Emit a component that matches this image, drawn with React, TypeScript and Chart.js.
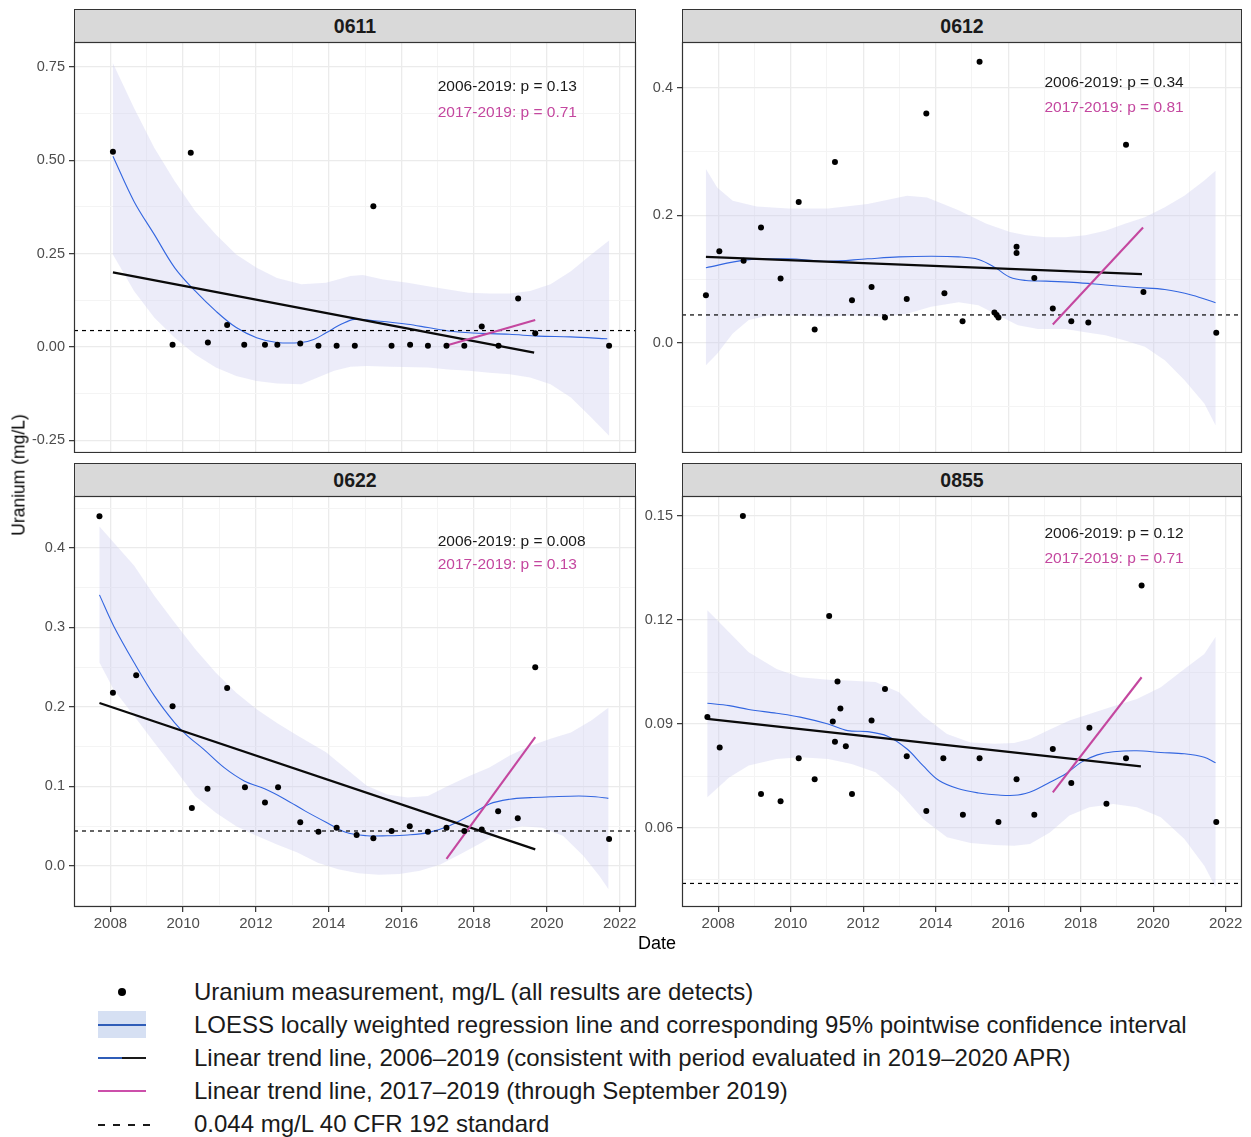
import React, { useEffect, useRef } from 'react';
import { Chart, registerables } from 'chart.js';

Chart.register(...registerables);

// ---------- shared axis data ----------
const X_MIN = 2007.0;
const X_MAX = 2022.45;
const X_MAJOR = [2008, 2010, 2012, 2014, 2016, 2018, 2020, 2022];
const X_MINOR = [2009, 2011, 2013, 2015, 2017, 2019, 2021];
const STANDARD = 0.044;
const ANNOT_X = 2017;
const PANEL_NAMES = ['0611', '0612', '0622', '0855'];
const P_ALL = ['0.13', '0.34', '0.008', '0.12'];
const P_RECENT = ['0.71', '0.81', '0.13', '0.71'];

// ---------- 0611 ----------
const pts0611X = [2008.07, 2009.71, 2010.21, 2010.68, 2011.21, 2011.68, 2012.25, 2012.59, 2013.22, 2013.72, 2014.22, 2014.72, 2015.23, 2015.73, 2016.24, 2016.73, 2017.24, 2017.73, 2018.21, 2018.67, 2019.21, 2019.68, 2021.71];
const pts0611Y = [0.523, 0.006, 0.520, 0.012, 0.059, 0.006, 0.006, 0.006, 0.009, 0.003, 0.003, 0.003, 0.377, 0.003, 0.006, 0.003, 0.003, 0.003, 0.055, 0.003, 0.130, 0.037, 0.003];
const loess0611X = [2008.07, 2008.65, 2009.21, 2009.77, 2010.33, 2010.90, 2011.46, 2012.02, 2012.58, 2013.25, 2013.59, 2013.93, 2014.37, 2014.71, 2015.27, 2016.17, 2016.73, 2017.29, 2017.85, 2018.97, 2019.76, 2020.65, 2021.66];
const loess0611Y = [0.511, 0.390, 0.301, 0.212, 0.150, 0.096, 0.052, 0.025, 0.012, 0.012, 0.020, 0.038, 0.062, 0.074, 0.070, 0.061, 0.052, 0.043, 0.038, 0.034, 0.029, 0.027, 0.022];
const ciHi0611X = [2008.07, 2008.65, 2009.21, 2009.77, 2010.33, 2010.90, 2011.46, 2012.02, 2012.58, 2013.25, 2013.93, 2014.60, 2014.94, 2015.50, 2016.17, 2016.73, 2017.29, 2017.85, 2018.42, 2018.98, 2019.54, 2020.10, 2020.66, 2021.22, 2021.71];
const ciHi0611Y = [0.760, 0.640, 0.533, 0.444, 0.364, 0.301, 0.248, 0.212, 0.185, 0.168, 0.172, 0.190, 0.193, 0.181, 0.172, 0.163, 0.154, 0.145, 0.143, 0.143, 0.150, 0.168, 0.203, 0.248, 0.285];
const ciLo0611X = [2008.07, 2008.65, 2009.21, 2009.77, 2010.33, 2010.90, 2011.46, 2012.02, 2012.58, 2013.25, 2013.70, 2014.15, 2014.60, 2015.05, 2015.72, 2016.73, 2017.29, 2017.85, 2018.42, 2018.98, 2019.54, 2020.10, 2020.66, 2021.22, 2021.71];
const ciLo0611Y = [0.248, 0.150, 0.078, 0.025, -0.020, -0.055, -0.078, -0.091, -0.098, -0.100, -0.082, -0.064, -0.053, -0.051, -0.053, -0.055, -0.060, -0.064, -0.069, -0.073, -0.082, -0.100, -0.135, -0.189, -0.238];
const trendAll0611X = [2008.07, 2019.65];
const trendAll0611Y = [0.200, -0.015];
const trendRecent0611X = [2017.24, 2019.68];
const trendRecent0611Y = [0.004, 0.072];

// ---------- 0612 ----------
const pts0612X = [2007.66, 2008.03, 2008.70, 2009.18, 2009.72, 2010.22, 2010.66, 2011.22, 2011.69, 2012.23, 2012.60, 2013.20, 2013.74, 2014.24, 2014.74, 2015.21, 2015.62, 2015.68, 2015.73, 2016.23, 2016.23, 2016.72, 2017.23, 2017.74, 2018.21, 2019.25, 2019.73, 2021.74];
const pts0612Y = [0.075, 0.144, 0.129, 0.181, 0.101, 0.221, 0.021, 0.284, 0.067, 0.088, 0.040, 0.069, 0.360, 0.078, 0.034, 0.441, 0.048, 0.044, 0.040, 0.151, 0.141, 0.102, 0.054, 0.034, 0.032, 0.311, 0.080, 0.016];
const loess0612X = [2007.66, 2008.73, 2009.93, 2011.03, 2012.12, 2012.99, 2013.87, 2014.63, 2015.18, 2015.62, 2016.05, 2016.49, 2017.04, 2017.80, 2018.68, 2019.55, 2020.32, 2021.08, 2021.72];
const loess0612Y = [0.118, 0.130, 0.132, 0.128, 0.132, 0.135, 0.136, 0.135, 0.131, 0.119, 0.103, 0.098, 0.097, 0.095, 0.091, 0.087, 0.084, 0.075, 0.063];
const ciHi0612X = [2007.66, 2007.97, 2008.40, 2009.06, 2009.93, 2011.03, 2012.12, 2013.21, 2013.76, 2014.63, 2015.40, 2016.05, 2016.49, 2017.04, 2017.58, 2018.13, 2018.68, 2019.22, 2019.77, 2020.32, 2020.86, 2021.41, 2021.72];
const ciHi0612Y = [0.273, 0.244, 0.223, 0.214, 0.211, 0.211, 0.218, 0.231, 0.228, 0.208, 0.187, 0.174, 0.169, 0.166, 0.166, 0.169, 0.176, 0.187, 0.197, 0.213, 0.231, 0.255, 0.270];
const ciLo0612X = [2007.66, 2007.97, 2008.40, 2008.84, 2009.39, 2010.15, 2011.03, 2011.68, 2012.56, 2013.21, 2013.87, 2014.63, 2015.18, 2015.73, 2016.27, 2016.82, 2017.58, 2018.13, 2018.68, 2019.22, 2019.77, 2020.32, 2020.86, 2021.41, 2021.72];
const ciLo0612Y = [-0.035, -0.017, 0.015, 0.036, 0.043, 0.043, 0.041, 0.043, 0.041, 0.046, 0.057, 0.064, 0.059, 0.043, 0.028, 0.022, 0.022, 0.017, 0.012, 0.004, -0.006, -0.027, -0.058, -0.095, -0.129];
const trendAll0612X = [2007.66, 2019.69];
const trendAll0612Y = [0.135, 0.108];
const trendRecent0612X = [2017.23, 2019.72];
const trendRecent0612Y = [0.029, 0.181];

// ---------- 0622 ----------
const pts0622X = [2007.70, 2008.07, 2008.71, 2009.71, 2010.24, 2010.67, 2011.21, 2011.70, 2012.25, 2012.61, 2013.22, 2013.72, 2014.22, 2014.77, 2015.23, 2015.73, 2016.23, 2016.73, 2017.24, 2017.73, 2018.21, 2018.66, 2019.20, 2019.68, 2021.71];
const pts0622Y = [0.440, 0.218, 0.240, 0.201, 0.073, 0.097, 0.224, 0.099, 0.080, 0.099, 0.055, 0.043, 0.048, 0.039, 0.035, 0.044, 0.050, 0.043, 0.048, 0.044, 0.046, 0.069, 0.060, 0.250, 0.034];
const loess0622X = [2007.70, 2008.09, 2008.65, 2009.21, 2009.77, 2010.11, 2010.56, 2011.12, 2011.68, 2012.24, 2012.80, 2013.36, 2013.93, 2014.49, 2015.05, 2015.61, 2016.17, 2016.73, 2017.29, 2017.85, 2018.42, 2018.98, 2019.54, 2020.10, 2020.88, 2021.33, 2021.69];
const loess0622Y = [0.341, 0.302, 0.256, 0.214, 0.180, 0.164, 0.147, 0.124, 0.107, 0.097, 0.084, 0.069, 0.055, 0.042, 0.038, 0.038, 0.039, 0.042, 0.050, 0.063, 0.078, 0.084, 0.086, 0.087, 0.088, 0.087, 0.085];
const ciHi0622X = [2007.70, 2008.09, 2008.65, 2009.21, 2009.77, 2010.33, 2010.90, 2011.46, 2012.02, 2012.58, 2013.14, 2013.93, 2014.49, 2015.05, 2015.61, 2016.17, 2016.73, 2017.29, 2017.85, 2018.42, 2018.98, 2019.54, 2020.10, 2020.66, 2021.22, 2021.69];
const ciHi0622Y = [0.427, 0.407, 0.378, 0.340, 0.306, 0.273, 0.243, 0.218, 0.197, 0.180, 0.164, 0.143, 0.122, 0.101, 0.090, 0.086, 0.088, 0.101, 0.113, 0.124, 0.139, 0.151, 0.160, 0.168, 0.183, 0.199];
const ciLo0622X = [2007.70, 2008.09, 2008.65, 2009.21, 2009.77, 2010.33, 2010.90, 2011.46, 2012.02, 2012.58, 2013.14, 2013.70, 2014.26, 2014.82, 2015.38, 2015.95, 2016.51, 2017.07, 2017.63, 2018.19, 2018.75, 2019.31, 2019.87, 2020.44, 2021.00, 2021.45, 2021.69];
const ciLo0622Y = [0.256, 0.222, 0.189, 0.155, 0.122, 0.088, 0.067, 0.050, 0.038, 0.027, 0.017, 0.004, -0.004, -0.009, -0.011, -0.010, -0.006, 0.002, 0.015, 0.029, 0.044, 0.050, 0.048, 0.038, 0.013, -0.013, -0.029];
const trendAll0622X = [2007.70, 2019.68];
const trendAll0622Y = [0.205, 0.021];
const trendRecent0622X = [2017.24, 2019.68];
const trendRecent0622Y = [0.009, 0.162];

// ---------- 0855 ----------
const pts0855X = [2007.70, 2008.04, 2008.68, 2009.18, 2009.72, 2010.22, 2010.66, 2011.06, 2011.16, 2011.22, 2011.29, 2011.37, 2011.52, 2011.69, 2012.23, 2012.60, 2013.20, 2013.74, 2014.21, 2014.75, 2015.21, 2015.73, 2016.23, 2016.72, 2017.23, 2017.74, 2018.24, 2018.71, 2019.25, 2019.68, 2021.74];
const pts0855Y = [0.0920, 0.0832, 0.1500, 0.0698, 0.0677, 0.0801, 0.0741, 0.1212, 0.0907, 0.0849, 0.1023, 0.0945, 0.0836, 0.0698, 0.0910, 0.1001, 0.0807, 0.0649, 0.0801, 0.0638, 0.0801, 0.0617, 0.0741, 0.0638, 0.0828, 0.0730, 0.0889, 0.0670, 0.0801, 0.1300, 0.0617];
const loess0855X = [2007.70, 2008.30, 2008.84, 2009.61, 2010.26, 2011.03, 2011.57, 2012.12, 2012.67, 2013.21, 2013.65, 2014.09, 2014.63, 2015.18, 2015.73, 2016.27, 2016.71, 2017.15, 2017.58, 2018.02, 2018.46, 2018.90, 2019.55, 2020.21, 2020.86, 2021.41, 2021.72];
const loess0855Y = [0.0960, 0.0953, 0.0942, 0.0931, 0.0920, 0.0900, 0.0881, 0.0878, 0.0865, 0.0828, 0.0780, 0.0737, 0.0713, 0.0701, 0.0695, 0.0695, 0.0708, 0.0732, 0.0756, 0.0790, 0.0811, 0.0820, 0.0823, 0.0818, 0.0814, 0.0804, 0.0788];
const ci0855X = [2007.70, 2008.30, 2008.84, 2009.61, 2010.26, 2011.03, 2011.68, 2012.34, 2012.99, 2013.65, 2014.31, 2014.96, 2015.62, 2016.16, 2016.60, 2017.15, 2017.69, 2018.24, 2018.90, 2019.55, 2020.21, 2020.86, 2021.41, 2021.72];
const ciHi0855Y = [0.1228, 0.1165, 0.1107, 0.1059, 0.1035, 0.1028, 0.1025, 0.1021, 0.0992, 0.0924, 0.0871, 0.0847, 0.0843, 0.0845, 0.0857, 0.0884, 0.0910, 0.0929, 0.0951, 0.0972, 0.1006, 0.1059, 0.1102, 0.1151];
const ciLo0855Y = [0.0689, 0.0746, 0.0780, 0.0799, 0.0804, 0.0799, 0.0785, 0.0761, 0.0703, 0.0626, 0.0573, 0.0557, 0.0551, 0.0549, 0.0554, 0.0587, 0.0636, 0.0660, 0.0669, 0.0660, 0.0631, 0.0568, 0.0491, 0.0429];
const trendAll0855X = [2007.70, 2019.66];
const trendAll0855Y = [0.0915, 0.0778];
const trendRecent0855X = [2017.23, 2019.68];
const trendRecent0855Y = [0.0703, 0.1035];

// ---------- y axes ----------
const Y0611_MAJOR = [-0.25, 0, 0.25, 0.5, 0.75];
const Y0611_LABELS = ['-0.25', '0.00', '0.25', '0.50', '0.75'];
const Y0611_MINOR = [-0.125, 0.125, 0.375, 0.625];
const Y0612_MAJOR = [0, 0.2, 0.4];
const Y0612_LABELS = ['0.0', '0.2', '0.4'];
const Y0612_MINOR = [-0.1, 0.1, 0.3];
const Y0622_MAJOR = [0, 0.1, 0.2, 0.3, 0.4];
const Y0622_LABELS = ['0.0', '0.1', '0.2', '0.3', '0.4'];
const Y0622_MINOR = [-0.05, 0.05, 0.15, 0.25, 0.35, 0.45];
const Y0855_MAJOR = [0.06, 0.09, 0.12, 0.15];
const Y0855_LABELS = ['0.06', '0.09', '0.12', '0.15'];
const Y0855_MINOR = [0.045, 0.075, 0.105, 0.135];
const Y_RANGE_0611 = [-0.284, 0.817];
const Y_RANGE_0612 = [-0.1725, 0.472];
const Y_RANGE_0622 = [-0.0516, 0.4654];
const Y_RANGE_0855 = [0.0372, 0.1558];
const ANNOT_Y_0611 = [0.697, 0.628];
const ANNOT_Y_0612 = [0.4088, 0.3687];
const ANNOT_Y_0622 = [0.408, 0.379];
const ANNOT_Y_0855 = [0.1448, 0.1377];

// ---------- styles ----------
const FONT = "'Liberation Sans', Arial, Helvetica, sans-serif";
const COL_POINT = '#000000';
const COL_LOESS = '#3366E0';
const COL_RIBBON = 'rgba(205,205,238,0.38)';
const COL_TREND = '#0a0a0a';
const COL_RECENT = '#C4479F';
const COL_GRID_MAJOR = '#EBEBEB';
const COL_GRID_MINOR = '#F4F4F4';
const COL_FRAME = '#333333';
const COL_TICK_TEXT = '#4D4D4D';

const zip = (xs: number[], ys: number[]) => xs.map((x, i) => ({ x, y: ys[i] }));
const near = (a: number, b: number) => Math.abs(a - b) < 1e-9;

type PanelCfg = {
  idx: number;
  box: { l: number; t: number; r: number; b: number };
  canvasLeft: number;
  showX: boolean;
  ptsX: number[]; ptsY: number[];
  loessX: number[]; loessY: number[];
  ciHiX: number[]; ciHiY: number[];
  ciLoX: number[]; ciLoY: number[];
  tAllX: number[]; tAllY: number[];
  tRecX: number[]; tRecY: number[];
  yMajor: number[]; yLabels: string[]; yMinor: number[];
  yRange: number[];
  annotY: number[];
};

const PANELS: PanelCfg[] = [
  {
    idx: 0, box: { l: 74, t: 42, r: 636, b: 453 }, canvasLeft: 0, showX: false,
    ptsX: pts0611X, ptsY: pts0611Y, loessX: loess0611X, loessY: loess0611Y,
    ciHiX: ciHi0611X, ciHiY: ciHi0611Y, ciLoX: ciLo0611X, ciLoY: ciLo0611Y,
    tAllX: trendAll0611X, tAllY: trendAll0611Y, tRecX: trendRecent0611X, tRecY: trendRecent0611Y,
    yMajor: Y0611_MAJOR, yLabels: Y0611_LABELS, yMinor: Y0611_MINOR, yRange: Y_RANGE_0611, annotY: ANNOT_Y_0611,
  },
  {
    idx: 1, box: { l: 682, t: 42, r: 1242, b: 453 }, canvasLeft: 640, showX: false,
    ptsX: pts0612X, ptsY: pts0612Y, loessX: loess0612X, loessY: loess0612Y,
    ciHiX: ciHi0612X, ciHiY: ciHi0612Y, ciLoX: ciLo0612X, ciLoY: ciLo0612Y,
    tAllX: trendAll0612X, tAllY: trendAll0612Y, tRecX: trendRecent0612X, tRecY: trendRecent0612Y,
    yMajor: Y0612_MAJOR, yLabels: Y0612_LABELS, yMinor: Y0612_MINOR, yRange: Y_RANGE_0612, annotY: ANNOT_Y_0612,
  },
  {
    idx: 2, box: { l: 74, t: 496, r: 636, b: 907 }, canvasLeft: 0, showX: true,
    ptsX: pts0622X, ptsY: pts0622Y, loessX: loess0622X, loessY: loess0622Y,
    ciHiX: ciHi0622X, ciHiY: ciHi0622Y, ciLoX: ciLo0622X, ciLoY: ciLo0622Y,
    tAllX: trendAll0622X, tAllY: trendAll0622Y, tRecX: trendRecent0622X, tRecY: trendRecent0622Y,
    yMajor: Y0622_MAJOR, yLabels: Y0622_LABELS, yMinor: Y0622_MINOR, yRange: Y_RANGE_0622, annotY: ANNOT_Y_0622,
  },
  {
    idx: 3, box: { l: 682, t: 496, r: 1242, b: 907 }, canvasLeft: 640, showX: true,
    ptsX: pts0855X, ptsY: pts0855Y, loessX: loess0855X, loessY: loess0855Y,
    ciHiX: ci0855X, ciHiY: ciHi0855Y, ciLoX: ci0855X, ciLoY: ciLo0855Y,
    tAllX: trendAll0855X, tAllY: trendAll0855Y, tRecX: trendRecent0855X, tRecY: trendRecent0855Y,
    yMajor: Y0855_MAJOR, yLabels: Y0855_LABELS, yMinor: Y0855_MINOR, yRange: Y_RANGE_0855, annotY: ANNOT_Y_0855,
  },
];

const PAD_TOP = 8;
const PAD_RIGHT = 14;
const X_AXIS_H = 30;

function Panel({ cfg }: { cfg: PanelCfg }) {
  const ref = useRef<HTMLCanvasElement>(null);
  const yW = cfg.box.l - cfg.canvasLeft;
  const xH = cfg.showX ? X_AXIS_H : 0;
  const W = cfg.box.r - cfg.box.l + yW + PAD_RIGHT;
  const H = cfg.box.b - cfg.box.t + PAD_TOP + xH;

  useEffect(() => {
    const canvas = ref.current;
    if (!canvas) return;
    const ribbon = [...zip(cfg.ciHiX, cfg.ciHiY), ...zip(cfg.ciLoX, cfg.ciLoY).reverse()];
    const xTicks = [...X_MAJOR, ...X_MINOR].sort((a, b) => a - b);
    const yTicks = [...cfg.yMajor, ...cfg.yMinor].sort((a, b) => a - b);
    const isXMajor = (v: number) => X_MAJOR.some((m) => near(m, v));
    const yMajorIdx = (v: number) => cfg.yMajor.findIndex((m) => near(m, v));

    const decor = {
      id: 'decor',
      afterDatasetsDraw(chart: any) {
        const { ctx, scales } = chart;
        const px = scales.x.getPixelForValue(ANNOT_X);
        ctx.save();
        ctx.font = `15.5px ${FONT}`;
        ctx.textAlign = 'left';
        ctx.textBaseline = 'middle';
        ctx.fillStyle = '#1A1A1A';
        ctx.fillText(`2006-2019: p = ${P_ALL[cfg.idx]}`, px, scales.y.getPixelForValue(cfg.annotY[0]));
        ctx.fillStyle = COL_RECENT;
        ctx.fillText(`2017-2019: p = ${P_RECENT[cfg.idx]}`, px, scales.y.getPixelForValue(cfg.annotY[1]));
        ctx.restore();
      },
      afterDraw(chart: any) {
        const { ctx, chartArea } = chart;
        ctx.save();
        ctx.strokeStyle = COL_FRAME;
        ctx.lineWidth = 1.2;
        ctx.strokeRect(chartArea.left + 0.5, chartArea.top + 0.5, chartArea.right - chartArea.left - 1, chartArea.bottom - chartArea.top - 1);
        ctx.restore();
      },
    };

    const chart = new Chart(canvas, {
      type: 'line',
      data: {
        datasets: [
          {
            label: 'ci', data: ribbon, fill: 'shape', backgroundColor: COL_RIBBON,
            borderWidth: 0, pointRadius: 0, order: 10, tension: 0,
          } as any,
          {
            label: 'loess', data: zip(cfg.loessX, cfg.loessY), borderColor: COL_LOESS, borderWidth: 1.1,
            pointRadius: 0, fill: false, order: 8, tension: 0.35,
          },
          {
            label: 'standard', data: [{ x: X_MIN, y: STANDARD }, { x: X_MAX, y: STANDARD }],
            borderColor: '#000', borderWidth: 1.2, borderDash: [4, 4], pointRadius: 0, fill: false, order: 7,
          },
          {
            label: 'trend all', data: zip(cfg.tAllX, cfg.tAllY), borderColor: COL_TREND, borderWidth: 2.3,
            pointRadius: 0, fill: false, order: 6,
          },
          {
            label: 'trend recent', data: zip(cfg.tRecX, cfg.tRecY), borderColor: COL_RECENT, borderWidth: 2.1,
            pointRadius: 0, fill: false, order: 5,
          },
          {
            label: 'points', data: zip(cfg.ptsX, cfg.ptsY), showLine: false, pointRadius: 3,
            pointBackgroundColor: COL_POINT, pointBorderWidth: 0, borderColor: COL_POINT, order: 1,
          },
        ],
      },
      options: {
        animation: false,
        responsive: false,
        maintainAspectRatio: false,
        events: [],
        layout: { autoPadding: false, padding: { top: PAD_TOP, right: PAD_RIGHT, left: 0, bottom: 0 } },
        plugins: { legend: { display: false }, tooltip: { enabled: false }, title: { display: false } },
        scales: {
          x: {
            type: 'linear', min: X_MIN, max: X_MAX,
            afterBuildTicks: (s: any) => { s.ticks = xTicks.map((v) => ({ value: v })); },
            afterFit: (s: any) => {
              s.height = xH;
              s.paddingLeft = 0; s.paddingRight = 0; s.paddingTop = 0; s.paddingBottom = 0;
            },
            ticks: {
              display: cfg.showX, autoSkip: false, maxRotation: 0, padding: 3,
              color: COL_TICK_TEXT, font: { family: FONT, size: 15 },
              callback: (v: any) => (isXMajor(Number(v)) ? String(Math.round(Number(v))) : ''),
            },
            grid: {
              drawTicks: cfg.showX, tickLength: 5,
              color: (c: any) => (isXMajor(c.tick.value) ? COL_GRID_MAJOR : COL_GRID_MINOR),
              lineWidth: (c: any) => (isXMajor(c.tick.value) ? 1.3 : 1),
              tickColor: (c: any) => (isXMajor(c.tick.value) ? COL_FRAME : 'rgba(0,0,0,0)'),
              tickWidth: 1.2,
            },
            border: { display: false },
          },
          y: {
            type: 'linear', min: cfg.yRange[0], max: cfg.yRange[1],
            afterBuildTicks: (s: any) => { s.ticks = yTicks.map((v) => ({ value: v })); },
            afterFit: (s: any) => {
              s.width = yW;
              s.paddingLeft = 0; s.paddingRight = 0; s.paddingTop = 0; s.paddingBottom = 0;
            },
            ticks: {
              autoSkip: false, padding: 4,
              color: COL_TICK_TEXT, font: { family: FONT, size: 14.5 },
              callback: (v: any) => { const i = yMajorIdx(Number(v)); return i >= 0 ? cfg.yLabels[i] : ''; },
            },
            grid: {
              drawTicks: true, tickLength: 5,
              color: (c: any) => (yMajorIdx(c.tick.value) >= 0 ? COL_GRID_MAJOR : COL_GRID_MINOR),
              lineWidth: (c: any) => (yMajorIdx(c.tick.value) >= 0 ? 1.3 : 1),
              tickColor: (c: any) => (yMajorIdx(c.tick.value) >= 0 ? COL_FRAME : 'rgba(0,0,0,0)'),
              tickWidth: 1.2,
            },
            border: { display: false },
          },
        },
      } as any,
      plugins: [decor],
    });
    return () => chart.destroy();
  }, []);

  return (
    <>
      <div
        style={{
          position: 'absolute', left: cfg.box.l, top: cfg.box.t - 33, width: cfg.box.r - cfg.box.l, height: 34,
          boxSizing: 'border-box', border: `1px solid ${COL_FRAME}`, background: '#D9D9D9',
          display: 'flex', alignItems: 'center', justifyContent: 'center',
          fontFamily: FONT, fontWeight: 'bold', fontSize: 19.5, color: '#1A1A1A',
        }}
      >
        {PANEL_NAMES[cfg.idx]}
      </div>
      <canvas
        ref={ref}
        width={W}
        height={H}
        style={{ position: 'absolute', left: cfg.canvasLeft, top: cfg.box.t - PAD_TOP, width: W, height: H }}
      />
    </>
  );
}

const LEGEND_TEXT = [
  'Uranium measurement, mg/L (all results are detects)',
  'LOESS locally weighted regression line and corresponding 95% pointwise confidence interval',
  'Linear trend line, 2006\u20132019 (consistent with period evaluated in 2019\u20132020 APR)',
  'Linear trend line, 2017\u20132019 (through September 2019)',
  '0.044 mg/L 40 CFR 192 standard',
];
const LEGEND_ROW_Y = [992, 1025, 1058, 1091, 1124];

function Legend() {
  const sw = (i: number) => {
    if (i === 0) return <div style={{ position: 'absolute', left: 118, top: -4, width: 8, height: 8, borderRadius: 4, background: '#000' }} />;
    if (i === 1)
      return (
        <>
          <div style={{ position: 'absolute', left: 98, top: -14, width: 48, height: 27, background: '#D6E0F3' }} />
          <div style={{ position: 'absolute', left: 98, top: -1, width: 48, height: 2, background: '#2F5DB8' }} />
        </>
      );
    if (i === 2)
      return (
        <>
          <div style={{ position: 'absolute', left: 98, top: -1, width: 24, height: 2, background: '#2F5DB8' }} />
          <div style={{ position: 'absolute', left: 122, top: -1, width: 24, height: 2, background: '#1A1A1A' }} />
        </>
      );
    if (i === 3) return <div style={{ position: 'absolute', left: 98, top: -1, width: 48, height: 2, background: '#CC4FAA' }} />;
    return (
      <>
        {[98, 113, 128, 143].map((x) => (
          <div key={x} style={{ position: 'absolute', left: x, top: 0, width: 7, height: 2, background: '#1A1A1A' }} />
        ))}
      </>
    );
  };
  return (
    <>
      {LEGEND_TEXT.map((t, i) => (
        <div key={i} style={{ position: 'absolute', left: 0, top: LEGEND_ROW_Y[i], width: 1251, height: 0 }}>
          {sw(i)}
          <div
            style={{
              position: 'absolute', left: 194, top: -15, height: 30, lineHeight: '30px', whiteSpace: 'nowrap',
              fontFamily: FONT, fontSize: 24, color: '#1A1A1A',
            }}
          >
            {t}
          </div>
        </div>
      ))}
    </>
  );
}

export default function App() {
  return (
    <div style={{ position: 'absolute', left: 0, top: 0, width: 1251, height: 1137, background: '#fff', overflow: 'hidden' }}>
      {PANELS.map((p) => (
        <Panel key={p.idx} cfg={p} />
      ))}
      <div
        style={{
          position: 'absolute', left: 19, top: 475, transform: 'translate(-50%, -50%) rotate(-90deg)',
          whiteSpace: 'nowrap', fontFamily: FONT, fontSize: 17.5, color: '#000',
        }}
      >
        Uranium (mg/L)
      </div>
      <div
        style={{
          position: 'absolute', left: 657, top: 943, transform: 'translate(-50%, -50%)',
          whiteSpace: 'nowrap', fontFamily: FONT, fontSize: 18, color: '#000',
        }}
      >
        Date
      </div>
      <Legend />
    </div>
  );
}
